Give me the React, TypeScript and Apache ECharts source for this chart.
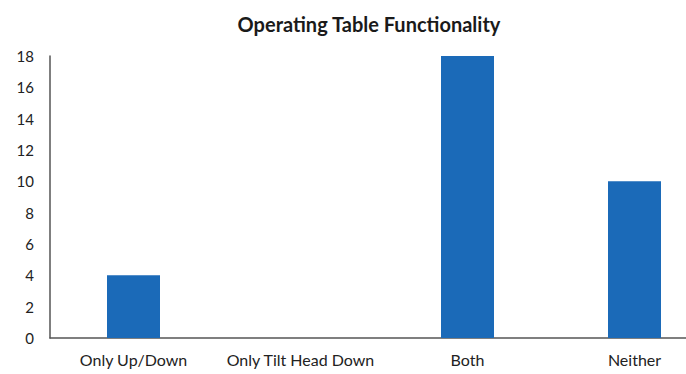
import React, { useEffect, useRef } from "react";
import * as echarts from "echarts";

const categories = ["Only Up/Down", "Only Tilt Head Down", "Both", "Neither"];
const counts = [4, 0, 18, 10];
const titleText = "Operating Table Functionality";

export default function App() {
  const ref = useRef<HTMLDivElement>(null);
  useEffect(() => {
    if (!ref.current) return;
    const chart = echarts.init(ref.current, null, { renderer: "svg" });
    chart.setOption({
      animation: false,
      backgroundColor: "#ffffff",
      title: {
        text: titleText,
        left: 364,
        top: 9,
        textAlign: "center",
        textStyle: { fontFamily: "Lato", fontWeight: "bold", fontSize: 20, color: "#1a1a1a" },
      },
      grid: { left: 50, right: 0, top: 56, bottom: 36, containLabel: false },
      xAxis: {
        type: "category",
        data: categories,
        axisLine: { lineStyle: { color: "#555555", width: 1.5 } },
        axisTick: { show: false },
        axisLabel: { fontFamily: "Lato", fontSize: 16, color: "#222222", margin: 13, interval: 0 },
      },
      yAxis: {
        type: "value",
        min: 0,
        max: 18,
        interval: 2,
        axisLine: { show: true, lineStyle: { color: "#555555", width: 1.5 } },
        axisTick: { show: false },
        splitLine: { show: false },
        axisLabel: { fontFamily: "Lato", fontSize: 15, color: "#222222", margin: 16 },
      },
      series: [
        {
          type: "bar",
          data: counts,
          barWidth: 53,
          itemStyle: { color: "#1b6ab8" },
        },
      ],
    });
    return () => chart.dispose();
  }, []);
  return (
    <div
      style={{
        position: "fixed",
        left: 0,
        top: 0,
        width: 686,
        height: 374,
        overflow: "hidden",
        background: "#ffffff",
      }}
    >
      <div ref={ref} style={{ width: 718, height: 374 }} />
    </div>
  );
}
